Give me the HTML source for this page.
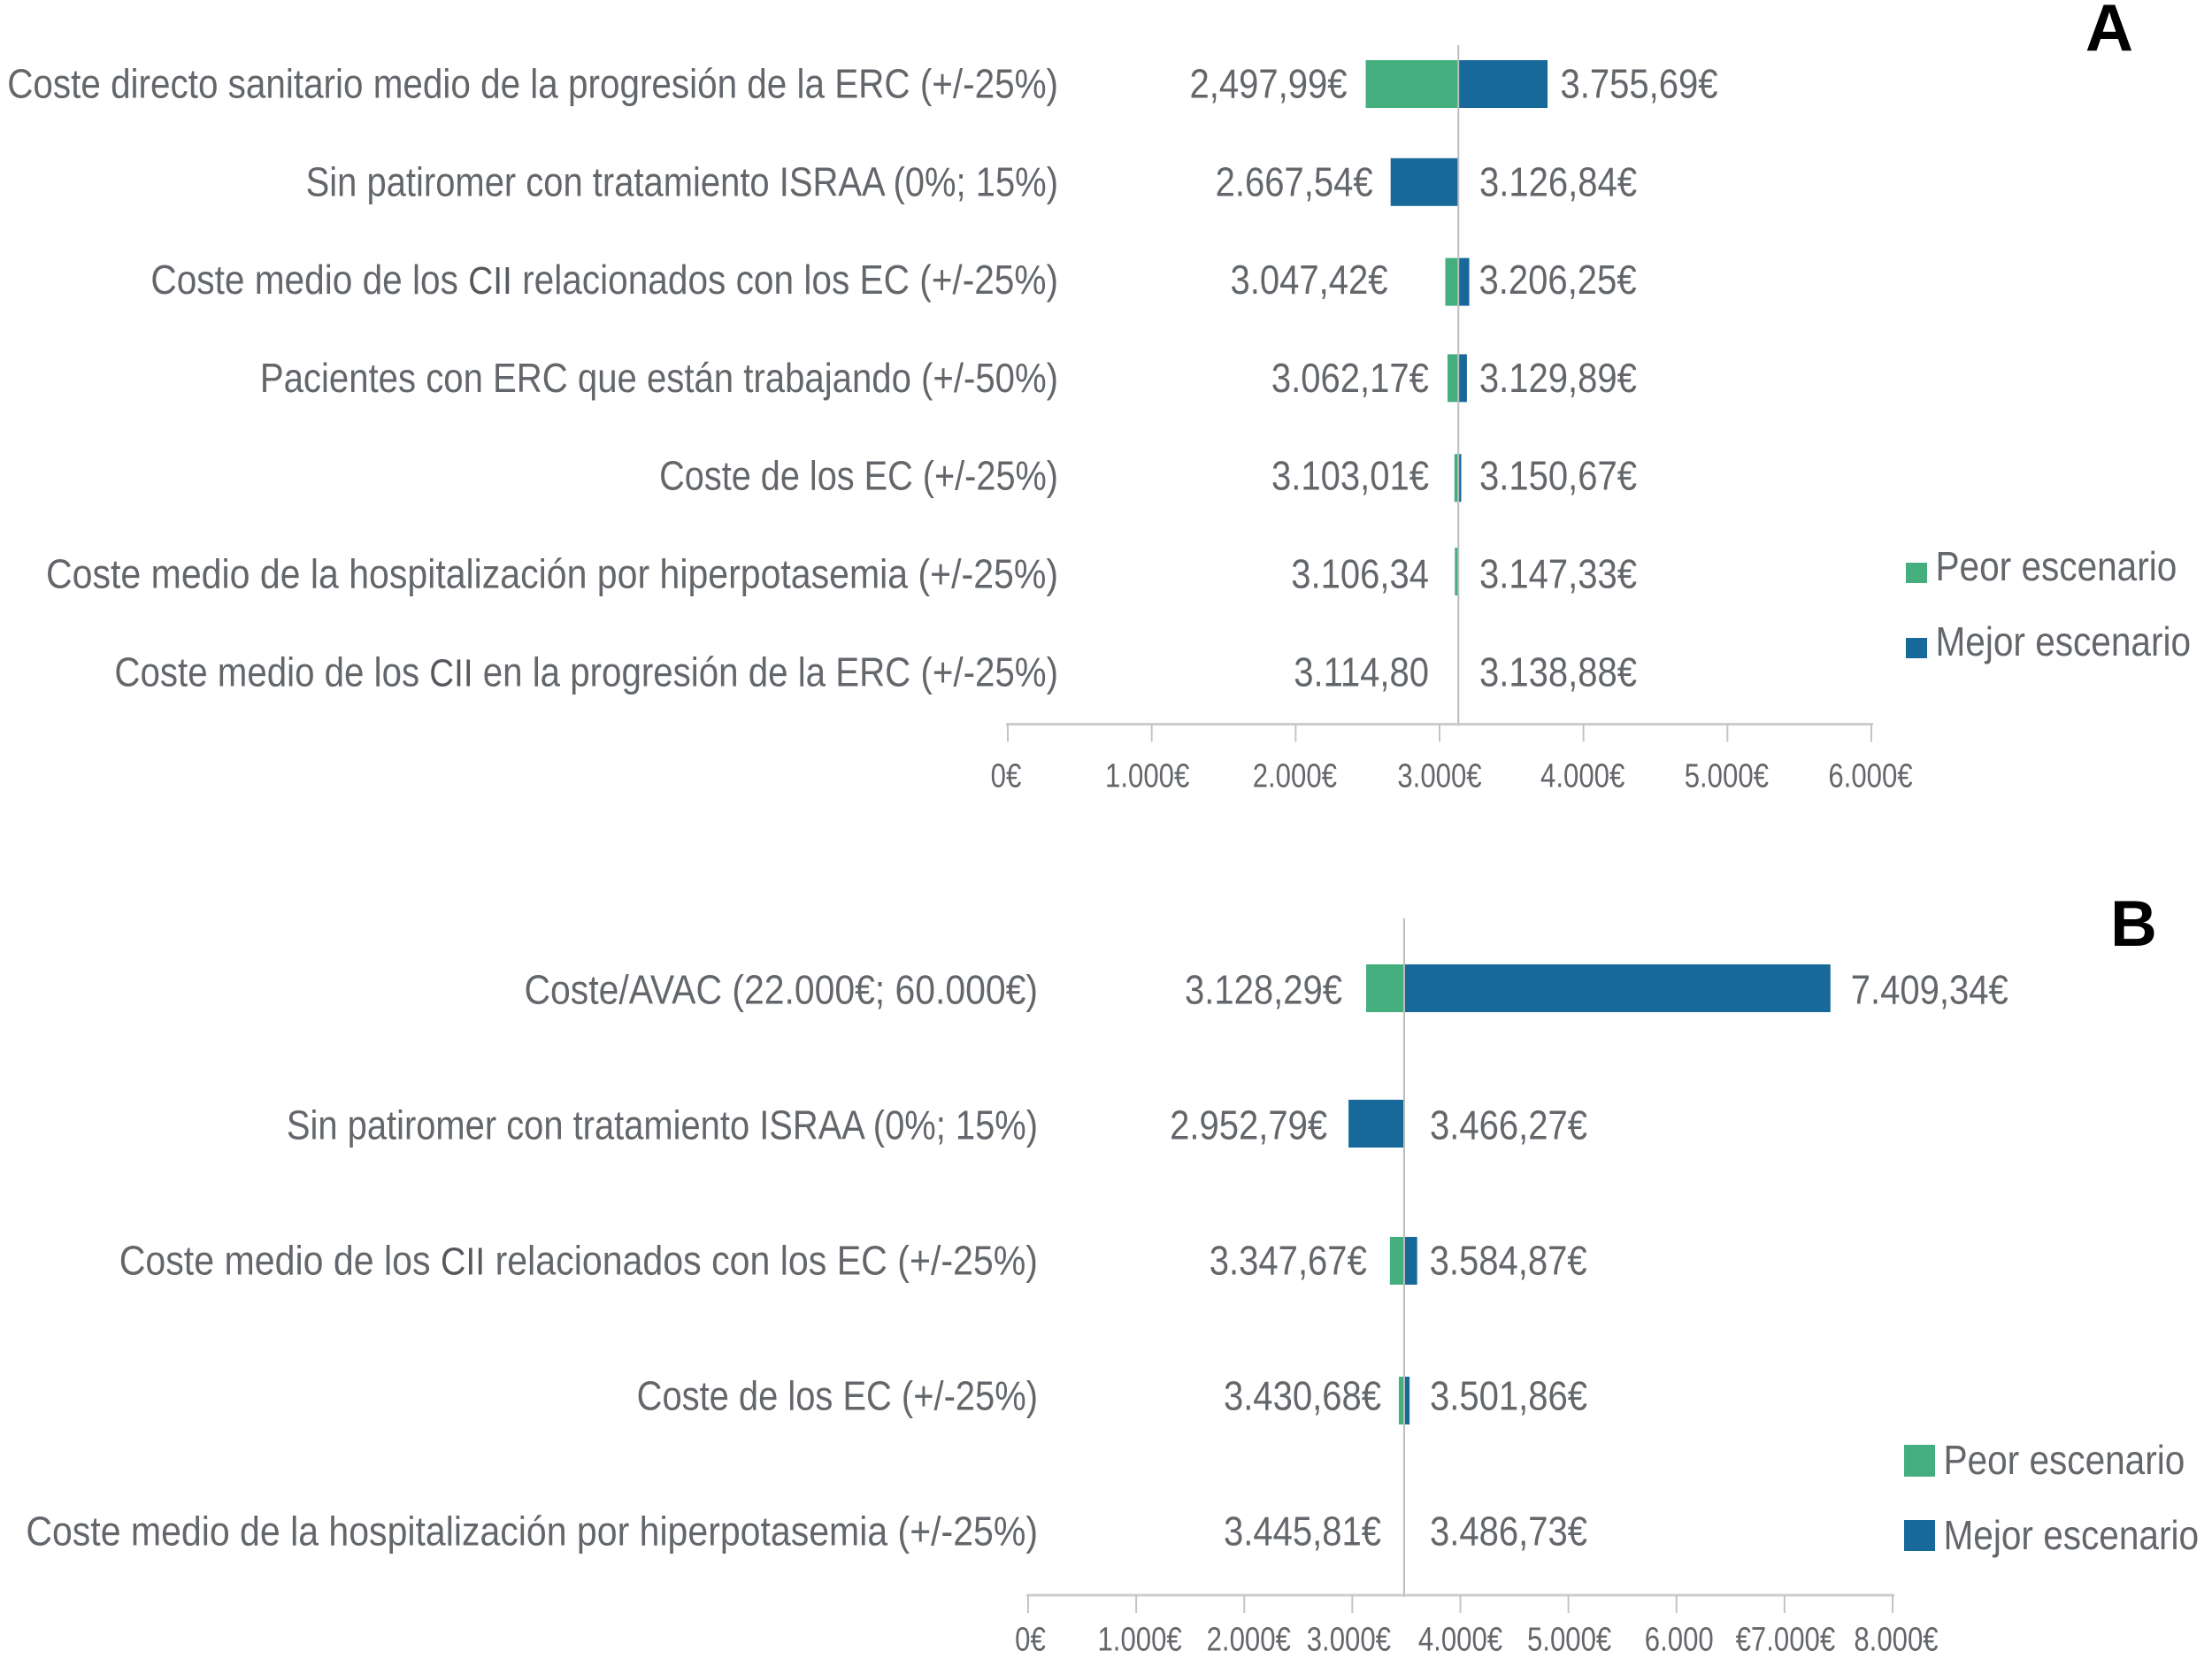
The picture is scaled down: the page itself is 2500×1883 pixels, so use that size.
<!DOCTYPE html>
<html lang="es">
<head>
<meta charset="utf-8">
<title>Análisis de sensibilidad: diagramas de tornado</title>
<style>
html,body{margin:0;padding:0;background:#fff;}
body{width:2500px;height:1883px;overflow:hidden;}
svg{display:block;}
text{font-family:"Liberation Sans",sans-serif;fill:#63676b;}
</style>
</head>
<body>
<svg id="chart" xmlns="http://www.w3.org/2000/svg" width="2500" height="1883" viewBox="0 0 2500 1883">
  <rect x="0" y="0" width="2500" height="1883" fill="#ffffff"/>
  <g id="panel-a"></g>
  <g id="panel-b"></g>
  <text x="2384" y="57" text-anchor="middle" font-size="75" font-weight="700" style="fill:#000">A</text>
  <text x="2411.5" y="1069" text-anchor="middle" font-size="73" font-weight="700" style="fill:#000">B</text>

  <g>
    <rect x="2154" y="636" width="24" height="23" fill="#45ae7e"/>
    <text transform="translate(2187.5,656) scale(0.882,1)" font-size="46">Peor escenario</text>
    <rect x="2154" y="721" width="24" height="23" fill="#17699a"/>
    <text transform="translate(2187.5,741) scale(0.882,1)" font-size="46">Mejor escenario</text>
  </g>
  <g>
    <rect x="2152" y="1633" width="35" height="36" fill="#45ae7e"/>
    <text transform="translate(2196.5,1666) scale(0.882,1)" font-size="46">Peor escenario</text>
    <rect x="2152" y="1718" width="35" height="35" fill="#17699a"/>
    <text transform="translate(2196.5,1751) scale(0.882,1)" font-size="46">Mejor escenario</text>
  </g>
</svg>

<script>
// ---- Panel A data ----
const categoriesA = [
  "Coste directo sanitario medio de la progresión de la ERC (+/-25%)",
  "Sin patiromer con tratamiento ISRAA (0%; 15%)",
  "Coste medio de los CII relacionados con los EC (+/-25%)",
  "Pacientes con ERC que están trabajando (+/-50%)",
  "Coste de los EC (+/-25%)",
  "Coste medio de la hospitalización por hiperpotasemia (+/-25%)",
  "Coste medio de los CII en la progresión de la ERC (+/-25%)"
];
const baseA = 3130.5;
const peorA = [2487, null, 3040, 3055, 3103.01, 3106.34, null];
const mejorA = [3750, 2660, 3206.25, 3190, 3150.67, null, null];
const lowLabelsA = ["2,497,99€", "2.667,54€", "3.047,42€", "3.062,17€", "3.103,01€", "3.106,34", "3.114,80"];
const highLabelsA = ["3.755,69€", "3.126,84€", "3.206,25€", "3.129,89€", "3.150,67€", "3.147,33€", "3.138,88€"];
const tickValuesA = [0, 1000, 2000, 3000, 4000, 5000, 6000];
const tickLabelsA = ["0€", "1.000€", "2.000€", "3.000€", "4.000€", "5.000€", "6.000€"];

// ---- Panel B data ----
const categoriesB = [
  "Coste/AVAC (22.000€; 60.000€)",
  "Sin patiromer con tratamiento ISRAA (0%; 15%)",
  "Coste medio de los CII relacionados con los EC (+/-25%)",
  "Coste de los EC (+/-25%)",
  "Coste medio de la hospitalización por hiperpotasemia (+/-25%)"
];
const baseB = 3480;
const peorB = [3128.29, null, 3347.67, 3430.68, null];
const mejorB = [7425, 2965, 3600, 3530, null];
const lowLabelsB = ["3.128,29€", "2.952,79€", "3.347,67€", "3.430,68€", "3.445,81€"];
const highLabelsB = ["7.409,34€", "3.466,27€", "3.584,87€", "3.501,86€", "3.486,73€"];
const tickValuesB = [0, 1000, 2000, 3000, 4000, 5000, 6000, 7000, 8000];
const tickLabelsB = ["0€", "1.000€", "2.000€", "3.000€", "4.000€", "5.000€", "6.000", "€7.000€", "8.000€"];

const NS = "http://www.w3.org/2000/svg";
const GREEN = "#45ae7e";
const BLUE = "#17699a";

function mk(parent, tag, attrs) {
  const el = document.createElementNS(NS, tag);
  for (const k in attrs) el.setAttribute(k, attrs[k]);
  parent.appendChild(el);
  return el;
}

function drawPanel(g, d, lay) {
  const x = v => lay.x0 + (v - d.ticks[0]) / (d.ticks[d.ticks.length - 1] - d.ticks[0]) * (lay.x1 - lay.x0);
  const yBase = i => lay.firstBaseline + i * lay.rowStep;
  const baseX = x(d.base);

  d.categories.forEach((name, i) => {
    const by = yBase(i);
    const center = by + lay.barOffset + (lay.barNudge[i] || 0);

    // category label (the CII acronym is set in a distinct size and tone)
    const cat = mk(g, "text", {
      transform: `translate(${lay.catRight},${by}) scale(${lay.catScale * (lay.catFit[i] || 1)},1)`,
      "text-anchor": "end",
      "font-size": 46
    });
    
    
    const parts = name.split("CII");
    parts.forEach((p, k) => {
      cat.appendChild(document.createTextNode(p));
      if (k < parts.length - 1) {
        const ts = mk(cat, "tspan", { "font-size": 44, style: "fill:#55585c" });
        ts.textContent = "CII";
      }
    });

    // bars
    const draw = (val, color, label) => {
      if (val === null) return;
      const vx = x(val);
      const r = mk(g, "rect", {
        x: Math.min(vx, baseX),
        y: center - lay.barH / 2,
        width: Math.abs(vx - baseX),
        height: lay.barH,
        fill: color
      });
      
      
    };
    draw(d.peor[i], GREEN, 'bar-peor-escenario');
    draw(d.mejor[i], BLUE, 'bar-mejor-escenario');

    // value labels sit outside the bars, with a minimum distance from the base line
    const vals = [d.peor[i], d.mejor[i]].filter(v => v !== null);
    const lo = vals.length ? Math.min(...vals) : d.base;
    const hi = vals.length ? Math.max(...vals) : d.base;
    const lowX = Math.min(x(lo) - lay.lowGap, lay.lowMax) + (lay.lowNudge[i] || 0);
    const highX = Math.max(x(hi) + lay.highGap, lay.highMin) + (lay.highNudge[i] || 0);

    const low = mk(g, "text", {
      transform: `translate(${lowX},${by}) scale(${lay.valScale},1)`,
      "text-anchor": "end",
      "font-size": 46
    });
    
    
    low.textContent = d.lowLabels[i];

    const high = mk(g, "text", {
      transform: `translate(${highX},${by}) scale(${lay.valScale},1)`,
      "font-size": 46
    });
    
    
    high.textContent = d.highLabels[i];
  });

  // base-case vertical line
  const line = mk(g, "line", {
    x1: baseX, x2: baseX, y1: lay.lineTop, y2: lay.axisY + 2,
    stroke: "#bdbdbd", "stroke-width": 2
  });
  
  

  // x axis
  const axis = mk(g, "line", {
    x1: lay.x0 - 2, x2: lay.x1 + 2, y1: lay.axisY, y2: lay.axisY,
    stroke: "#cccccc", "stroke-width": 3
  });
  
  

  d.ticks.forEach((t, i) => {
    const tx = x(t);
    const tick = mk(g, "line", {
      x1: tx, x2: tx, y1: lay.axisY, y2: lay.axisY + 20,
      stroke: "#c4c4c4", "stroke-width": 2
    });
    
    

    const lab = mk(g, "text", {
      transform: `translate(${tx + 1 + (lay.tickNudge[i] || 0)},${lay.tickBaseline}) scale(0.82,1)`,
      "text-anchor": "middle",
      "font-size": 38
    });
    
    
    lab.textContent = d.tickLabels[i];
  });
}

drawPanel(document.getElementById("panel-a"), {
  categories: categoriesA, base: baseA, peor: peorA, mejor: mejorA,
  lowLabels: lowLabelsA, highLabels: highLabelsA,
  ticks: tickValuesA, tickLabels: tickLabelsA
}, {
  x0: 1139, x1: 2115, axisY: 818.5, tickBaseline: 889.5, lineTop: 51,
  firstBaseline: 110.5, rowStep: 110.8, barH: 54, barOffset: -15.5,
  barNudge: {2: 2, 4: 2, 5: -3},
  catRight: 1196, catScale: 0.875, valScale: 0.87,
  catFit: {0: 1.005, 1: 0.9925, 2: 1.009, 3: 0.997, 4: 0.986, 5: 1.02, 6: 1.001},
  lowGap: 21, lowMax: 1615,
  lowNudge: {2: -44, 1: 1},
  highGap: 16, highMin: 1672,
  highNudge: {0: -1.5, 2: -5, 3: -2},
  tickNudge: {0: -3, 1: -6, 2: -2, 3: -1, 4: -2, 5: -2, 6: -2}
});

drawPanel(document.getElementById("panel-b"), {
  categories: categoriesB, base: baseB, peor: peorB, mejor: mejorB,
  lowLabels: lowLabelsB, highLabels: highLabelsB,
  ticks: tickValuesB, tickLabels: tickLabelsB
}, {
  x0: 1162, x1: 2139, axisY: 1803, tickBaseline: 1865.5, lineTop: 1038,
  firstBaseline: 1134.5, rowStep: 153, barH: 54, barOffset: -17.5,
  barNudge: {2: 2, 3: 7},
  catRight: 1173, catScale: 0.885, valScale: 0.87,
  catFit: {0: 1.005, 1: 0.98, 2: 1.01, 3: 0.98, 4: 1.008},
  lowGap: 27, lowMax: 1561,
  lowNudge: {1: 3, 2: 1, 3: 7, 4: 1},
  highGap: 22, highMin: 1616,
  highNudge: {0: 1, 2: -8},
  tickNudge: {0: 1.5, 1: 3, 2: 4, 3: -5, 4: -1, 6: 2, 8: 3}
});
</script>
</body>
</html>
